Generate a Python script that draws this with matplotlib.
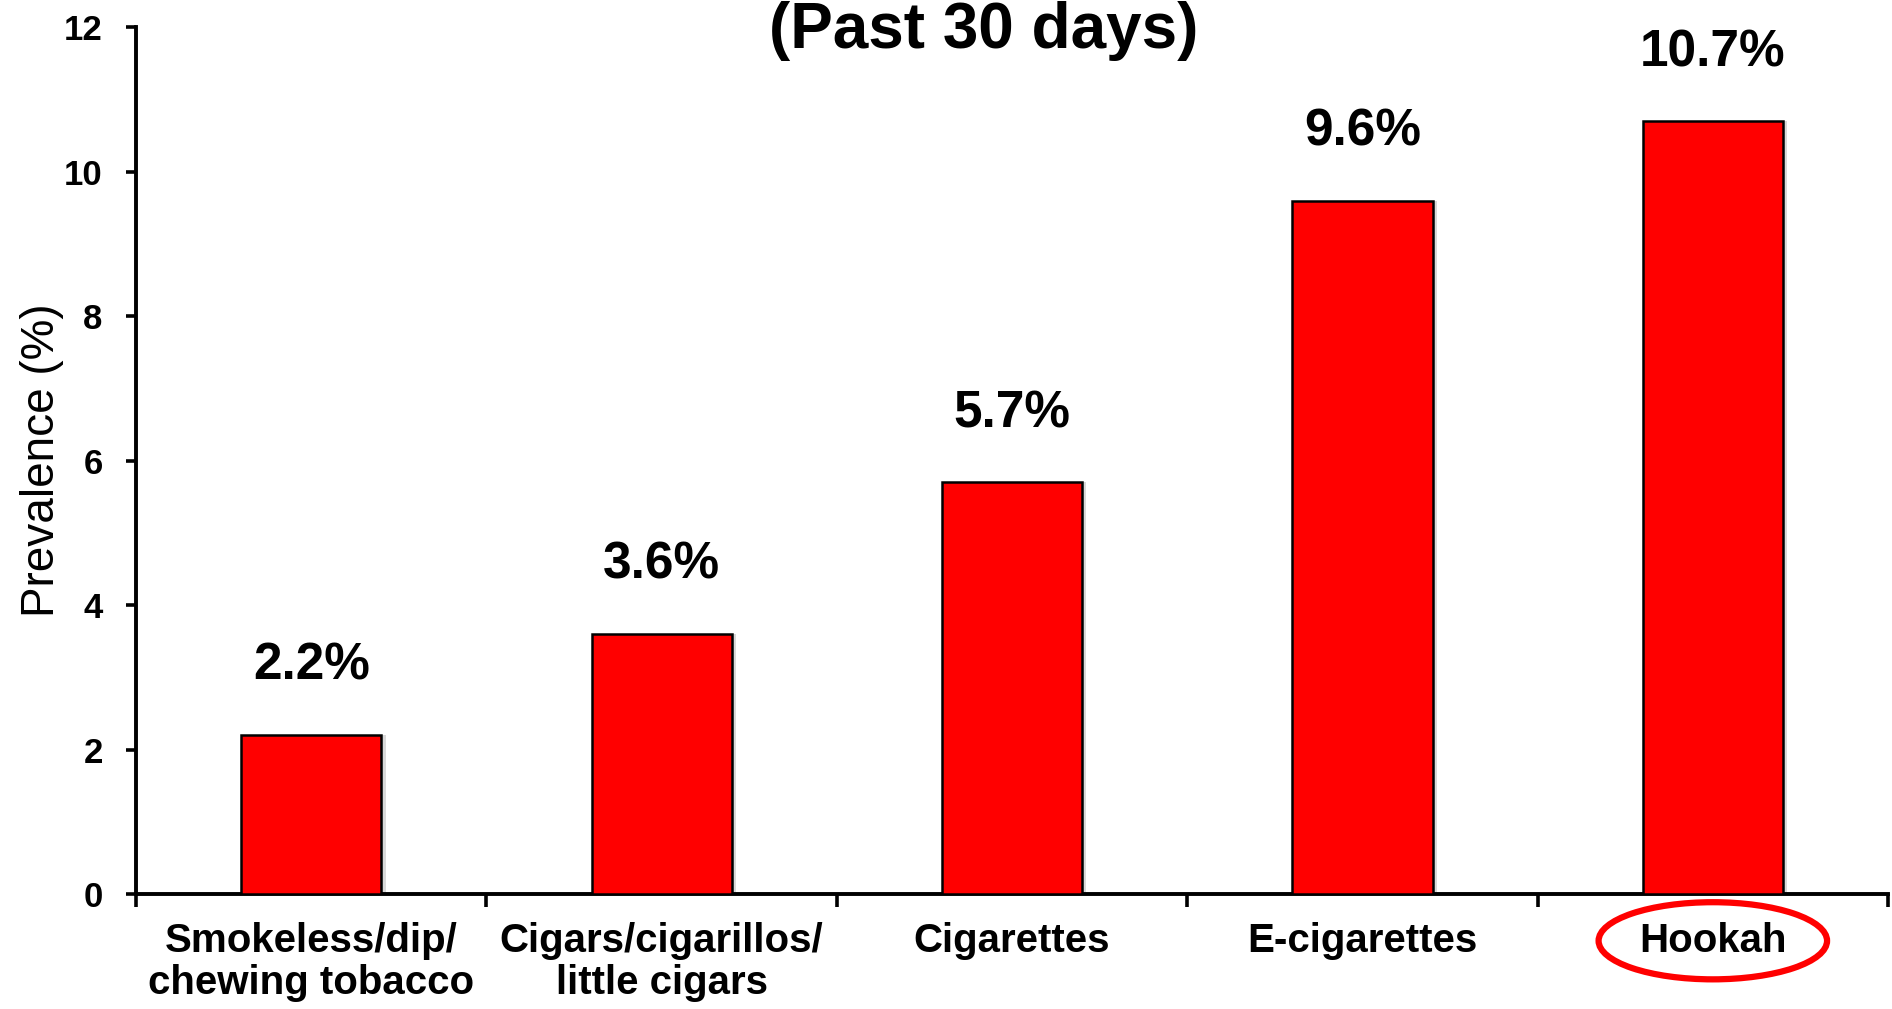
import matplotlib
matplotlib.use('Agg')
import matplotlib.pyplot as plt
from matplotlib.patches import Ellipse
import matplotlib.transforms as mtransforms

categories = ['Smokeless/dip/\nchewing tobacco', 'Cigars/cigarillos/\nlittle cigars',
              'Cigarettes', 'E-cigarettes', 'Hookah']
prevalence = [2.2, 3.6, 5.7, 9.6, 10.7]
value_labels = ['2.2%', '3.6%', '5.7%', '9.6%', '10.7%']
yticks = [0, 2, 4, 6, 8, 10, 12]

plt.rcParams['font.family'] = ['Liberation Sans', 'DejaVu Sans']

fig = plt.figure(figsize=(18.92, 10.09), dpi=100)
ax = fig.add_axes([0.0719, 0.114, 0.926, 0.859])

x = list(range(len(categories)))
# faint shadow behind the bars
ax.bar([xi + 0.012 for xi in x], prevalence, width=0.4, color='#d9d9d9', linewidth=0, zorder=2)
ax.bar(x, prevalence, width=0.4, color='#ff0000', edgecolor='black', linewidth=1.8, zorder=3)

for xi, v, lab in zip(x, prevalence, value_labels):
    ax.text(xi, v + 0.95, lab, ha='center', va='center', fontsize=37, fontweight='bold')

ax.set_xlim(-0.5, len(categories) - 0.5)
ax.set_ylim(0, 12)
ax.set_yticks(yticks)
ax.set_yticklabels([str(t) for t in yticks], fontsize=25, fontweight='bold')
ax.set_xticks(x)
ax.set_xticklabels(categories, fontsize=29, fontweight='bold', linespacing=1.15)
ax.set_xticks([i - 0.5 for i in range(len(categories) + 1)], minor=True)
ax.tick_params(axis='x', which='major', length=0, pad=20)
ax.tick_params(axis='x', which='minor', length=9, width=2.6, direction='out')
ax.tick_params(axis='y', length=7, width=2.6, direction='out', pad=17)

for side in ['top', 'right']:
    ax.spines[side].set_visible(False)
for side in ['left', 'bottom']:
    ax.spines[side].set_linewidth(2.8)

ax.set_ylabel('Prevalence (%)', fontsize=33)
ax.yaxis.set_label_coords(-0.041, 0.5)

fig.text(0.52, 1 - 48 / 1009, '(Past 30 days)', ha='center', va='baseline',
         fontsize=46, fontweight='bold')

# red ring around the Hookah label
trans = mtransforms.blended_transform_factory(ax.transData, ax.transAxes)
ring = Ellipse((x[-1], -0.054), 0.652, 0.089, transform=trans, fill=False,
               edgecolor='#ff0000', linewidth=4.5, clip_on=False)
ax.add_patch(ring)

fig.savefig('out.png', dpi=100)
